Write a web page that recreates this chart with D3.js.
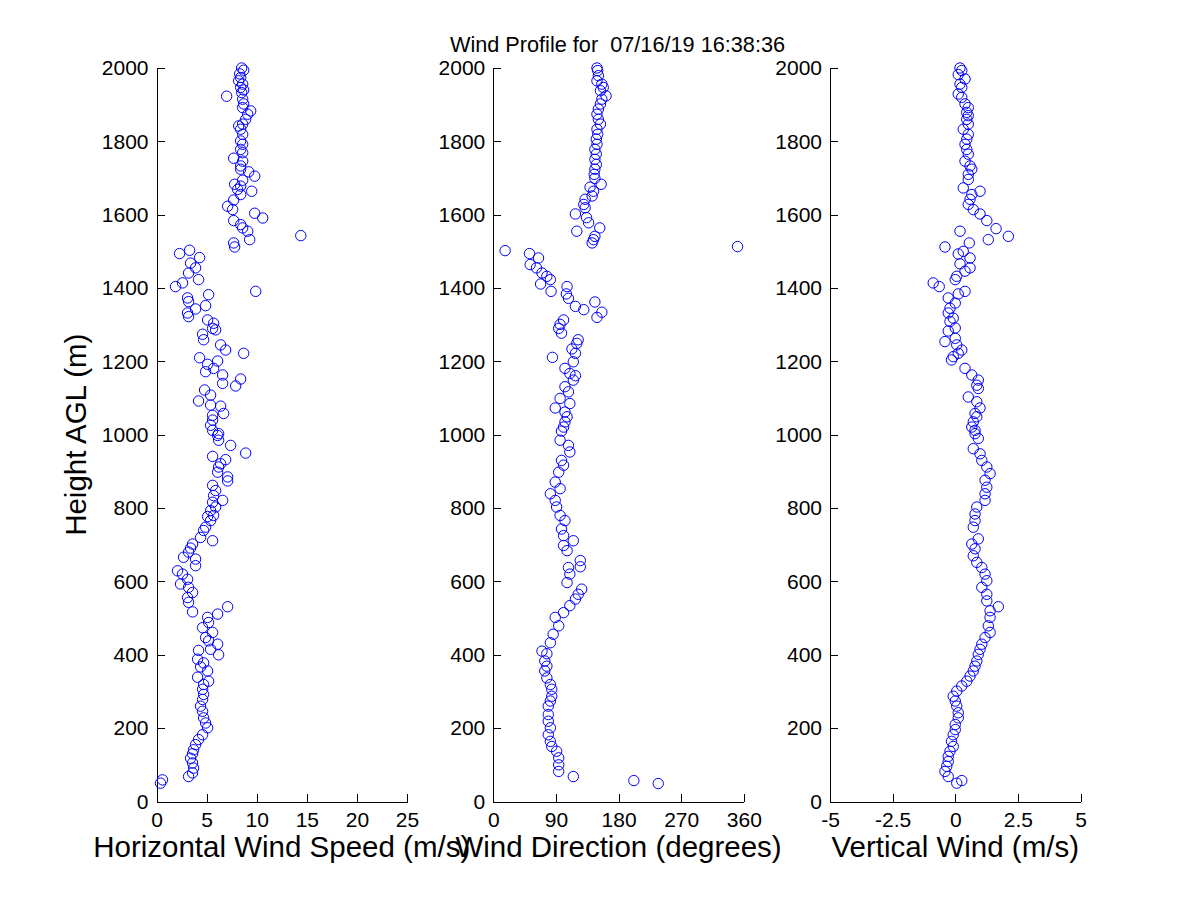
<!DOCTYPE html>
<html>
<head>
<meta charset="utf-8">
<script src="https://cdn.jsdelivr.net/npm/d3@7"></script>
<style>
  body { margin: 0; background: #fff; }
  text { font-family: "Liberation Sans", Arial, Helvetica, sans-serif; fill: #000; }
</style>
</head>
<body>
<svg id="chart" width="1200" height="900"></svg>
<script>
// horizontal wind speed (m/s) vs height (m)
const speedHeight = [2000,1994,1984,1974,1965,1956,1947,1940,1933,1923,1915,1902,1892,1883,1874,1860,1847,1842,1833,1819,
  1801,1792,1778,1769,1754,1746,1733,1724,1717,1705,1694,1683,1678,1669,1664,1655,1640,1623,1614,1604,1591,1584,1573,
  1564,1555,1543,1532,1523,1512,1503,1494,1483,1468,1455,1441,1423,1414,1404,1391,1382,1373,1363,1352,1343,1332,1322,
  1313,1304,1290,1286,1274,1259,1245,1231,1222,1210,1201,1192,1181,1172,1163,1152,1140,1133,1122,1108,1092,1081,1078,
  1058,1053,1040,1026,1012,1003,998,985,971,950,941,932,921,912,898,885,874,862,848,834,821,816,803,793,780,777,766,748,
  739,720,711,702,691,680,666,661,643,629,620,606,593,584,570,556,543,531,517,511,502,488,474,461,447,438,429,415,412,
  400,388,378,367,356,339,328,319,306,292,278,260,246,228,214,201,182,169,155,141,130,118,105,91,78,68,59,50];
const speedValue = [8.5,8.7,8.3,8.4,8.2,8.6,8.4,8.7,8.5,7.0,8.6,8.7,8.6,9.4,9.1,8.9,8.6,8.2,8.4,8.6,
  8.4,8.6,8.4,8.6,7.7,8.6,8.4,8.4,9.2,9.8,8.6,7.8,8.4,8.1,9.5,8.4,7.7,7.1,7.6,9.8,10.6,7.7,8.4,
  8.6,9.1,14.4,9.3,7.7,7.8,3.3,2.3,4.3,3.4,3.9,3.2,4.2,2.6,1.9,9.9,5.2,3.1,3.2,4.9,3.9,3.1,3.2,
  5.1,5.7,5.6,5.9,4.6,4.7,6.4,6.9,8.7,4.3,6.1,5.1,5.7,4.9,6.6,8.4,6.6,7.9,4.8,5.4,4.2,5.4,6.4,
  6.7,5.6,5.6,5.4,5.6,6.2,6.1,6.2,7.4,8.9,5.6,6.9,6.4,6.2,6.1,7.1,7.1,5.6,5.9,5.7,6.6,5.6,5.9,5.4,5.7,5.1,5.4,4.9,
  4.7,4.4,5.6,3.6,3.4,3.2,2.7,3.9,3.9,2.1,2.6,3.1,2.4,3.2,3.6,3.1,3.2,7.1,3.6,6.1,5.1,5.2,4.6,5.6,4.9,5.2,6.1,5.4,4.2,
  6.2,4.1,4.7,4.4,5.1,4.1,5.2,4.7,4.6,4.7,4.6,4.4,4.6,4.7,4.9,5.1,4.6,4.2,3.9,3.7,3.6,3.4,3.6,3.7,3.6,3.2,0.6,0.4];

// wind direction (degrees) vs height (m)
const dirHeight = [2000,1993,1979,1965,1956,1947,1938,1924,1915,1902,1888,1874,1860,1847,1833,1819,1806,1792,1778,1765,
  1751,1737,1724,1710,1699,1683,1675,1664,1651,1642,1628,1619,1602,1592,1578,1564,1555,1541,1532,1523,1513,1502,1494,
  1482,1464,1455,1441,1432,1423,1411,1404,1391,1384,1372,1362,1350,1341,1334,1320,1313,1301,1290,1277,1259,1249,1234,
  1222,1211,1199,1181,1167,1161,1149,1131,1117,1099,1085,1073,1062,1049,1035,1021,1010,985,971,953,930,917,898,871,853,
  839,821,803,780,766,743,725,711,698,684,657,640,638,620,597,579,565,552,534,515,502,479,456,433,410,403,383,369,356,
  337,319,306,287,274,260,237,219,201,182,164,150,137,119,100,82,68,57,49];
const dirValue = [149,150,151,149,156,158,154,162,156,154,151,149,151,154,149,150,148,149,146,148,
  146,148,146,145,146,155,139,144,142,132,130,132,118,134,137,153,120,146,144,142,351,17,52,
  65,53,62,70,77,82,68,106,83,105,108,146,118,130,156,149,101,96,94,98,122,120,113,
  118,85,115,103,110,118,115,103,108,96,110,89,103,106,103,101,98,96,108,110,98,101,94,89,96,
  82,89,91,96,103,98,101,115,101,106,125,125,108,110,106,127,122,118,110,101,89,94,86,82,70,77,74,77,74,
  77,82,84,84,82,79,79,79,82,79,82,84,91,94,94,94,115,202,237];

// vertical wind (m/s) vs height (m)
const vertHeight = [2000,1993,1982,1970,1956,1947,1929,1920,1902,1892,1879,1870,1860,1847,1833,1819,1806,1792,1778,1765,
  1746,1733,1724,1710,1696,1673,1664,1655,1642,1628,1614,1602,1584,1562,1555,1541,1532,1523,1512,1500,1493,1482,1466,
  1455,1446,1432,1423,1414,1404,1391,1384,1373,1359,1345,1332,1318,1309,1291,1283,1263,1254,1245,1231,1222,1213,1204,
  1181,1163,1149,1135,1126,1103,1090,1073,1058,1049,1035,1021,1012,1003,990,962,948,930,912,894,876,857,839,821,803,
  784,766,748,716,702,689,670,652,638,620,602,584,565,547,531,520,502,479,461,447,429,415,401,383,369,356,342,328,315,
  301,287,274,260,242,228,210,196,182,164,150,137,123,109,96,82,68,57,50];
const vertValue = [0.19,0.26,0.12,0.39,0.19,0.26,0.12,0.26,0.39,0.52,0.46,0.52,0.46,0.52,0.32,0.52,0.46,0.39,0.46,0.52,
  0.39,0.59,0.66,0.52,0.52,0.32,0.99,0.66,0.59,0.52,0.72,0.99,1.26,1.63,0.19,2.12,1.32,0.56,-0.41,0.32,0.12,0.59,0.19,
  0.59,0.39,0.06,0,-0.88,-0.64,0.39,0.12,-0.28,0,-0.21,-0.28,-0.08,-0.21,0,-0.28,0,-0.41,0.06,0.26,0.12,-0.08,-0.15,
  0.39,0.66,0.92,0.86,0.92,0.52,0.86,0.99,0.79,0.86,0.72,0.66,0.79,0.79,0.92,0.72,0.99,1.06,1.26,1.39,1.19,1.26,1.19,1.19,0.86,
  0.79,0.79,0.72,0.92,0.66,0.79,0.72,0.86,1.06,1.19,1.26,1.06,1.26,1.26,1.72,1.39,1.39,1.32,1.39,1.19,1.06,0.99,0.92,0.86,0.79,0.72,0.59,0.46,0.26,
  0.06,-0.08,0,0.06,0.12,0.12,0,0,-0.08,-0.15,-0.08,-0.21,-0.28,-0.28,-0.34,-0.41,-0.28,0.26,0.06];

const heightTicks = [0,200,400,600,800,1000,1200,1400,1600,1800,2000];
const speedTicks = [0,5,10,15,20,25];
const dirTicks = [0,90,180,270,360];
const vertTicks = [-5,-2.5,0,2.5,5];

const svg = d3.select('#chart');
svg.append('rect').attr('width', 1200).attr('height', 900).attr('fill', '#fff');

const panelWidth = 250.5;
const y = d3.scaleLinear().domain([0, 2000]).range([801.5, 68]);

function axisStyle(g) {
  g.selectAll('path, line').attr('stroke', '#000').attr('stroke-width', 1).attr('shape-rendering', 'crispEdges');
  g.selectAll('text').attr('font-size', 21).attr('font-family', '"Liberation Sans", Arial, sans-serif').attr('fill', '#000');
}

function drawPanel(left, domain, ticks, label, heights, values) {
  const x = d3.scaleLinear().domain(domain).range([left, left + panelWidth]);

  svg.append('g')
     .attr('transform', `translate(0,${y(0)})`)
     .call(d3.axisBottom(x).tickValues(ticks).tickFormat(d => String(d))
            .tickSizeInner(-8).tickSizeOuter(0).tickPadding(11))
     .call(axisStyle);

  svg.append('g')
     .attr('transform', `translate(${left},0)`)
     .call(d3.axisLeft(y).tickValues(heightTicks).tickFormat(d => String(d))
            .tickSizeInner(-8).tickSizeOuter(0).tickPadding(8))
     .call(axisStyle);

  svg.append('g').selectAll('circle')
     .data(heights.map((h, i) => ({ h: h, v: values[i] })))
     .join('circle')
     .attr('cx', d => x(d.v))
     .attr('cy', d => y(d.h))
     .attr('r', 5.2)
     .attr('fill', 'none')
     .attr('stroke', '#0000ff')
     .attr('stroke-width', 1);

  svg.append('text')
     .attr('x', left + panelWidth / 2)
     .attr('y', 857)
     .attr('text-anchor', 'middle')
     .attr('font-size', 29.5)
     .text(label);
}

drawPanel(156.5, [0, 25], speedTicks, 'Horizontal Wind Speed (m/s)', speedHeight, speedValue);
drawPanel(493.3, [0, 360], dirTicks, 'Wind Direction (degrees)', dirHeight, dirValue);
drawPanel(830, [-5, 5], vertTicks, 'Vertical Wind (m/s)', vertHeight, vertValue);

svg.append('text')
   .attr('transform', `translate(86,${(y(0) + y(2000)) / 2}) rotate(-90)`)
   .attr('text-anchor', 'middle')
   .attr('font-size', 29.5)
   .text('Height AGL (m)');

svg.append('text')
   .attr('x', 617.5)
   .attr('y', 52)
   .attr('text-anchor', 'middle')
   .attr('font-size', 21.7)
   .style('white-space', 'pre')
   .text('Wind Profile for  07/16/19 16:38:36');
</script>
</body>
</html>
